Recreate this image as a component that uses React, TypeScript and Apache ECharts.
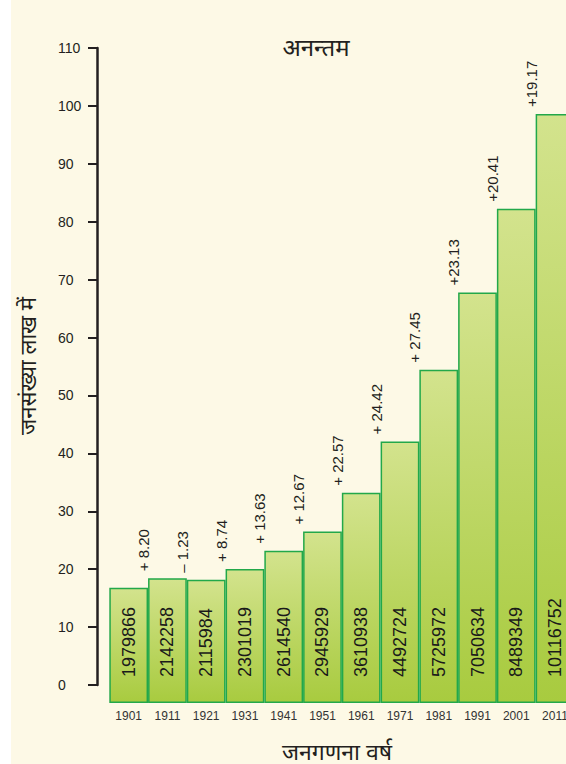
import React, { useEffect, useRef } from 'react';
import * as echarts from 'echarts';

const years = ['1901', '1911', '1921', '1931', '1941', '1951', '1961', '1971', '1981', '1991', '2001', '2011'];
const population = [1979866, 2142258, 2115984, 2301019, 2614540, 2945929, 3610938, 4492724, 5725972, 7050634, 8489349, 10116752];
const growthLabels = ['+ 8.20', '– 1.23', '+ 8.74', '+ 13.63', '+ 12.67', '+ 22.57', '+ 24.42', '+ 27.45', '+23.13', '+20.41', '+19.17'];
const yMin = 0;
const yMax = 110;
const yStep = 10;
const lakh = 100000;

const titleText = 'अनन्तम';
const yTitle = 'जनसंख्या लाख में';
const xTitle = 'जनगणना वर्ष';

const NUM_FONT = '"Liberation Sans", Arial, sans-serif';
const HI_FONT = '"Noto Sans", "Noto Sans Devanagari", "Lohit Devanagari", sans-serif';
const INK = '#231f20';

export default function App() {
  const ref = useRef<HTMLDivElement>(null);
  useEffect(() => {
    if (!ref.current) return;
    const chart = echarts.init(ref.current, undefined, { renderer: 'svg' });
    const barValues = population.map((p) => p / lakh);
    const growthData = growthLabels.map((_, k) => [k + 1, population[k + 1] / lakh]);
    chart.setOption({
      animation: false,
      backgroundColor: 'transparent',
      grid: [
        { left: 97, top: 48, height: 637, width: 10 },
        { left: 109.3, top: 48, height: 655, width: 465.1 },
      ],
      xAxis: [
        { gridIndex: 0, type: 'value', show: false },
        {
          gridIndex: 1,
          type: 'category',
          data: years,
          axisLine: { show: false },
          axisTick: { show: false },
          axisLabel: { fontSize: 12, color: '#333', fontFamily: NUM_FONT, margin: 7, interval: 0 },
        },
      ],
      yAxis: [
        {
          gridIndex: 0,
          type: 'value',
          min: yMin,
          max: yMax,
          interval: yStep,
          splitLine: { show: false },
          axisLine: { show: true, lineStyle: { color: INK, width: 2.5 } },
          axisTick: { show: true, length: 9, lineStyle: { color: INK, width: 2 } },
          axisLabel: { align: 'left', margin: 39, fontSize: 14, color: INK, fontFamily: NUM_FONT },
        },
        {
          gridIndex: 1,
          type: 'value',
          min: 0,
          max: 655 / 5.822,
          show: false,
          splitLine: { show: false },
        },
      ],
      series: [
        {
          type: 'bar',
          xAxisIndex: 1,
          yAxisIndex: 1,
          data: barValues,
          barCategoryGap: '0%',
          itemStyle: {
            color: new echarts.graphic.LinearGradient(0, 0, 0, 1, [
              { offset: 0, color: '#d3e38d' },
              { offset: 1, color: '#a8cb3f' },
            ]),
            borderColor: '#22a84a',
            borderWidth: 1.5,
          },
          label: {
            show: true,
            position: 'insideBottom',
            rotate: 90,
            align: 'left',
            verticalAlign: 'middle',
            distance: 26,
            fontSize: 18,
            color: '#1a1a1a',
            fontFamily: NUM_FONT,
            formatter: (p: any) => String(population[p.dataIndex]),
          },
        },
        {
          type: 'custom',
          xAxisIndex: 1,
          yAxisIndex: 1,
          data: growthData,
          renderItem: (params: any, api: any) => {
            const i = api.value(0);
            const v = api.value(1);
            const pt = api.coord([i, v]);
            const band = api.size([1, 0])[0];
            return {
              type: 'text',
              x: pt[0] - band / 2 - 4.5,
              y: pt[1] - 7,
              rotation: Math.PI / 2,
              style: {
                text: growthLabels[params.dataIndex],
                fontSize: 15,
                fill: INK,
                align: 'left',
                verticalAlign: 'middle',
                fontFamily: NUM_FONT,
              },
            };
          },
        },
      ],
      graphic: [
        {
          type: 'text',
          x: 316,
          y: 46,
          style: { text: titleText, fontSize: 24, fontWeight: 'normal', fill: INK, align: 'center', verticalAlign: 'middle', fontFamily: HI_FONT },
        },
        {
          type: 'text',
          x: 27,
          y: 366,
          rotation: Math.PI / 2,
          style: { text: yTitle, fontSize: 22, fontWeight: 'normal', fill: INK, align: 'center', verticalAlign: 'middle', fontFamily: HI_FONT },
        },
        {
          type: 'text',
          x: 337,
          y: 751,
          style: { text: xTitle, fontSize: 23, fontWeight: 'normal', fill: INK, align: 'center', verticalAlign: 'middle', fontFamily: HI_FONT },
        },
      ],
    });
    return () => chart.dispose();
  }, []);
  return (
    <div
      style={{
        position: 'fixed',
        left: 0,
        top: 0,
        width: 566,
        height: 764,
        overflow: 'hidden',
        background: 'linear-gradient(to right, #ffffff 11px, #fdf9e6 11px)',
      }}
    >
      <div ref={ref} style={{ position: 'absolute', left: 0, top: 0, width: 640, height: 764 }} />
    </div>
  );
}
